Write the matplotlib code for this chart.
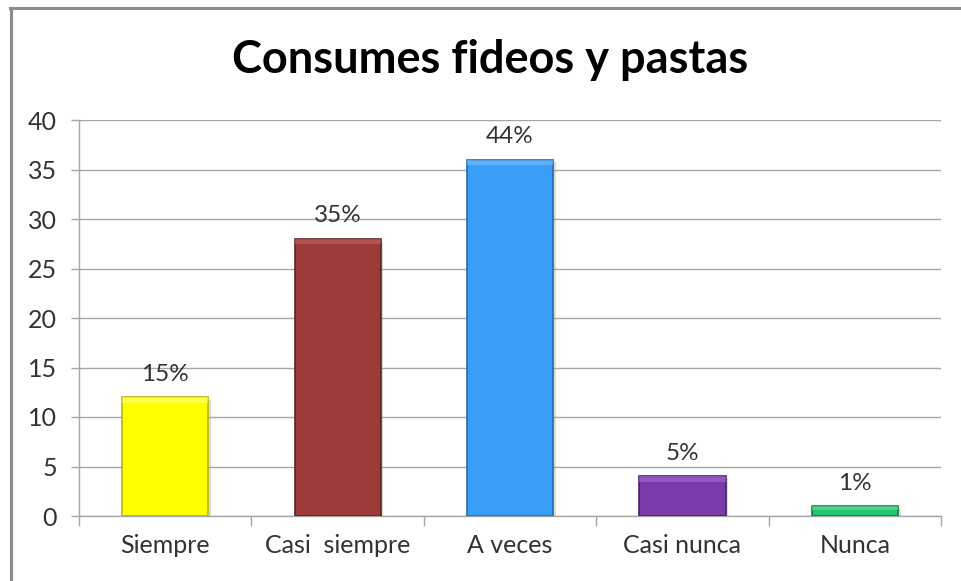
import matplotlib
matplotlib.use("Agg")
import matplotlib.pyplot as plt
import matplotlib.patheffects as pe
from matplotlib.lines import Line2D

categories = ["Siempre", "Casi  siempre", "A veces", "Casi nunca", "Nunca"]
counts = [12, 28, 36, 4, 1]
percent_labels = ["15%", "35%", "44%", "5%", "1%"]
bar_colors = ["#FFFF00", "#9C3B38", "#3A9EF7", "#7A3AA8", "#22C56E"]
edge_colors = ["#B8B800", "#5E2220", "#1F6DB5", "#4B2070", "#127A42"]
top_colors = ["#FFFF80", "#C86A66", "#7DC2FF", "#A872CF", "#6EE6A4"]
y_ticks = [0, 5, 10, 15, 20, 25, 30, 35, 40]

plt.rcParams["font.family"] = ["Lato", "DejaVu Sans"]

fig = plt.figure(figsize=(9.61, 5.81), dpi=100)
fig.patch.set_facecolor("white")

# outer chart frame (top and left edges)
fig.add_artist(Line2D([10 / 961, 1.0], [1 - 7.5 / 581] * 2, transform=fig.transFigure,
                      color="#8C8C8C", lw=2.2))
fig.add_artist(Line2D([10.5 / 961] * 2, [0.0, 1 - 7.5 / 581], transform=fig.transFigure,
                      color="#8C8C8C", lw=2.2))

ax = fig.add_axes([79 / 961, 1 - 516 / 581, (941 - 79) / 961, (516 - 120) / 581])
x = list(range(len(categories)))

bars = ax.bar(x, counts, width=0.5, color=bar_colors, edgecolor=edge_colors,
              linewidth=1.2, zorder=3)
for b in bars:
    b.set_path_effects([pe.SimplePatchShadow(offset=(2, -2), shadow_rgbFace="#999999", alpha=0.35),
                        pe.Normal()])

# bevel highlight along the top of each bar
for xi, v, tc in zip(x, counts, top_colors):
    bevel = min(0.55, v * 0.4)
    ax.bar(xi, bevel, bottom=v - bevel, width=0.5, color=tc, alpha=0.55,
           linewidth=0, zorder=4)

for xi, v, lab in zip(x, counts, percent_labels):
    ax.annotate(lab, (xi, v), xytext=(0, 9), textcoords="offset points",
                ha="center", va="bottom", fontsize=17.5, color="#333333")

ax.set_xlim(-0.5, len(categories) - 0.5)
ax.set_ylim(0, 40)
ax.set_yticks(y_ticks)
ax.set_yticklabels([str(t) for t in y_ticks], fontsize=18, color="#333333")
ax.yaxis.grid(True, color="#A6A6A6", lw=1.0, zorder=0)
ax.set_axisbelow(True)

# category labels centered, tick marks at category boundaries
ax.set_xticks(x)
ax.set_xticklabels(categories, fontsize=18, color="#333333")
ax.tick_params(axis="x", length=0, pad=13)
ax.set_xticks([i - 0.5 for i in range(len(categories) + 1)], minor=True)
ax.tick_params(axis="x", which="minor", length=7, color="#A6A6A6", width=1)
ax.tick_params(axis="y", length=6, color="#A6A6A6", width=1, pad=10)

for s in ["top", "right"]:
    ax.spines[s].set_visible(False)
for s in ["left", "bottom"]:
    ax.spines[s].set_color("#A6A6A6")
    ax.spines[s].set_linewidth(1)

fig.text(0.51, 1 - 60 / 581, "Consumes fideos y pastas", ha="center", va="center",
         fontsize=32.5, fontweight="bold", color="black")

fig.savefig("out.png", dpi=100, facecolor="white")
